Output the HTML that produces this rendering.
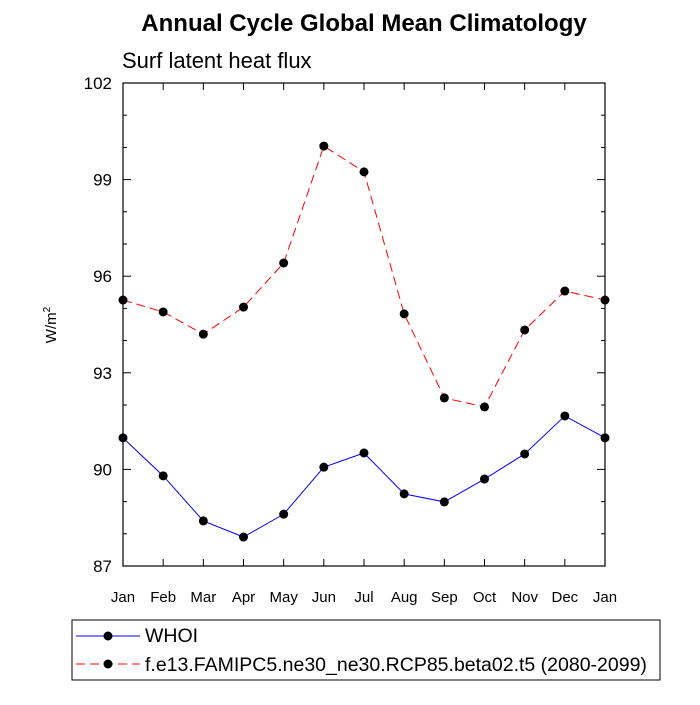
<!DOCTYPE html>
<html><head><meta charset="utf-8"><style>body{margin:0;background:#fff}svg{font-family:"Liberation Sans",sans-serif}</style></head>
<body>
<svg id="c" width="700" height="700">
<text x="364" y="31" text-anchor="middle" font-size="24" font-weight="bold">Annual Cycle Global Mean Climatology</text>
<text x="122" y="68" font-size="22">Surf latent heat flux</text>
<text transform="translate(56,325) rotate(-90)" text-anchor="middle" font-size="15">W/m<tspan dy="-6" font-size="10">2</tspan></text>
<rect x="123" y="83" width="482" height="483" fill="none" stroke="#000" stroke-width="1.2"/>
<g id="ticks"></g><g id="series"></g>
<g>
<rect x="72" y="620" width="588" height="60" fill="none" stroke="#000"/>
<line x1="76" y1="636" x2="140" y2="636" stroke="#00f"/><circle cx="108" cy="636" r="4.5"/>
<text x="145" y="642" font-size="19.5">WHOI</text>
<line x1="76" y1="664" x2="140" y2="664" stroke="#f00" stroke-dasharray="9,5"/><circle cx="108" cy="664" r="4.5"/>
<text x="145" y="671" font-size="19.5">f.e13.FAMIPC5.ne30_ne30.RCP85.beta02.t5 (2080-2099)</text>
</g>
</svg>
<script>
const months=["Jan","Feb","Mar","Apr","May","Jun","Jul","Aug","Sep","Oct","Nov","Dec","Jan"];
const whoi=[90.98,89.80,88.40,87.90,88.61,90.07,90.51,89.24,88.99,89.70,90.48,91.66,90.98];
const model=[95.26,94.89,94.20,95.04,96.41,100.04,99.24,94.83,92.22,91.94,94.33,95.54,95.26];
const yTicks=[87,90,93,96,99,102];
const NS="http://www.w3.org/2000/svg";
const x=i=>123+i*(482/12), y=v=>566-(v-87)*(483/15);
const T=document.getElementById('ticks'), S=document.getElementById('series');
function mk(p,tag,a){const e=document.createElementNS(NS,tag);for(const k in a)e.setAttribute(k,a[k]);p.appendChild(e);return e;}
months.forEach((m,i)=>{
 mk(T,'line',{x1:x(i),x2:x(i),y1:566,y2:559,stroke:'#000'});
 mk(T,'line',{x1:x(i),x2:x(i),y1:83,y2:90,stroke:'#000'});
 const t=mk(T,'text',{x:x(i),y:602,'text-anchor':'middle','font-size':15});t.textContent=m;
 
 
});
for(let v=87;v<=102;v++){const L=yTicks.includes(v)?8:4;
 mk(T,'line',{x1:123,x2:123+L,y1:y(v),y2:y(v),stroke:'#000'});
 mk(T,'line',{x1:605,x2:605-L,y1:y(v),y2:y(v),stroke:'#000'});}
yTicks.forEach(v=>{const t=mk(T,'text',{x:112,y:y(v)+6,'text-anchor':'end','font-size':17});t.textContent=v;
 
 });
function series(d,col,dash,name){
 const p=mk(S,'polyline',{points:d.map((v,i)=>x(i)+','+y(v)).join(' '),fill:'none',stroke:col,'stroke-dasharray':dash});
 
 
 d.forEach((v,i)=>{const c=mk(S,'circle',{cx:x(i),cy:y(v),r:4.5});
 
 });
}
series(whoi,'#00f','none','whoi');
series(model,'#f00','9,5','model');
</script>
</body></html>
